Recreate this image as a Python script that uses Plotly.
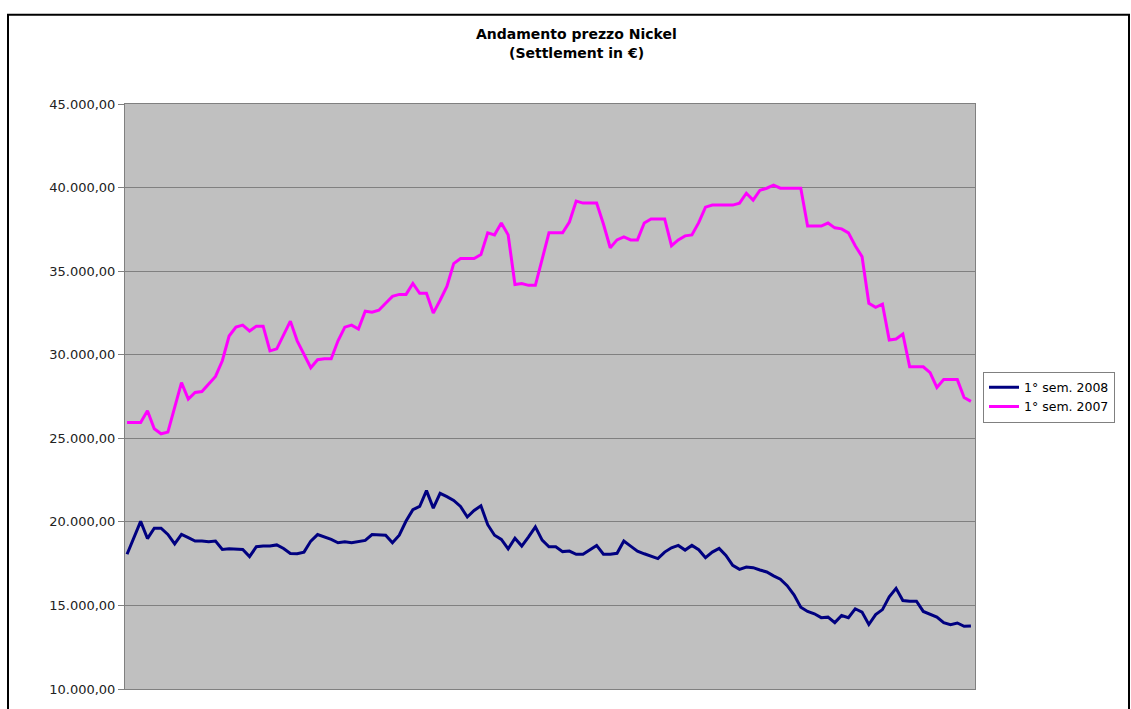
import plotly.graph_objects as go

# Daily settlement prices (EUR), first half-year, one value per trading day
sem_2008 = [18060, 19050, 20030, 19000, 19620, 19620, 19250, 18680, 19250, 19060,
            18850, 18850, 18810, 18850, 18350, 18390, 18350, 18350, 17920, 18510,
            18550, 18550, 18620, 18410, 18110, 18090, 18190, 18850, 19240, 19100,
            18950, 18750, 18810, 18750, 18830, 18890, 19240, 19240, 19200, 18750,
            19200, 20050, 20730, 20920, 21870, 20820, 21710, 21510, 21280, 20920,
            20290, 20680, 20960, 19830, 19200, 18950, 18390, 19020, 18550, 19100,
            19700, 18910, 18510, 18510, 18220, 18250, 18060, 18060, 18350, 18590,
            18060, 18060, 18120, 18850, 18550, 18250, 18090, 17960, 17800, 18190,
            18450, 18590, 18310, 18590, 18330, 17860, 18190, 18410, 17990, 17400,
            17160, 17300, 17260, 17120, 17000, 16770, 16570, 16180, 15640, 14890,
            14640, 14500, 14270, 14300, 13970, 14400, 14270, 14800, 14600, 13860,
            14450, 14750, 15520, 16020, 15290, 15250, 15250, 14640, 14450, 14300,
            13970, 13850, 13950, 13750, 13770]

sem_2007 = [25950, 25950, 25950, 26650, 25570, 25270, 25370, 26850, 28330, 27340,
            27740, 27800, 28230, 28700, 29640, 31120, 31650, 31770, 31420, 31710,
            31710, 30230, 30350, 31180, 32010, 30830, 30000, 29220, 29700, 29760,
            29760, 30830, 31650, 31770, 31540, 32600, 32540, 32660, 33080, 33490,
            33610, 33610, 34260, 33670, 33670, 32490, 33260, 34090, 35450, 35750,
            35750, 35750, 35990, 37290, 37170, 37880, 37170, 34200, 34260, 34150,
            34150, 35750, 37290, 37290, 37290, 37940, 39190, 39070, 39070, 39070,
            37820, 36400, 36870, 37050, 36870, 36870, 37880, 38120, 38120, 38120,
            36520, 36870, 37110, 37170, 37900, 38830, 38950, 38950, 38950, 38950,
            39070, 39660, 39250, 39840, 39960, 40140, 39960, 39960, 39960, 39960,
            37700, 37700, 37700, 37880, 37590, 37530, 37290, 36520, 35870, 33080,
            32840, 33020, 30880, 30940, 31240, 29280, 29280, 29280, 28930, 28040,
            28510, 28510, 28510, 27440, 27210]

series_names = ["1° sem. 2008", "1° sem. 2007"]
title_lines = ["Andamento prezzo Nickel", "(Settlement in €)"]
y_ticks = [10000, 15000, 20000, 25000, 30000, 35000, 40000, 45000]

days = list(range(len(sem_2008)))

W, H = 1131, 709
L, R, T, B = 125, 975, 104, 694

fig = go.Figure()
fig.add_trace(go.Scatter(x=days, y=sem_2008, mode="lines", name=series_names[0],
                         line=dict(color="#000080", width=3)))
fig.add_trace(go.Scatter(x=days, y=sem_2007, mode="lines", name=series_names[1],
                         line=dict(color="#FF00FF", width=3)))

pw, ph = R - L, B - T

def px_x(v):
    return (v - L) / pw

def px_y(v):
    return (B - v) / ph

annotations = []
for txt, yc in zip(title_lines, [33, 53]):
    annotations.append(dict(
        text="<b>" + txt + "</b>", xref="paper", yref="paper",
        x=px_x(576), y=px_y(yc), xanchor="center", yanchor="middle",
        showarrow=False, font=dict(family="DejaVu Sans", size=14, color="black"),
    ))

fig.update_layout(
    width=W, height=H,
    margin=dict(l=L, r=W - R, t=T, b=H - B, pad=0),
    paper_bgcolor="white",
    plot_bgcolor="#C0C0C0",
    separators=",.",
    font=dict(family="DejaVu Sans", size=12, color="black"),
    showlegend=True,
    legend=dict(
        x=px_x(983), y=px_y(374), xanchor="left", yanchor="top",
        bgcolor="white", bordercolor="#808080", borderwidth=1,
        font=dict(family="DejaVu Sans", size=12.5, color="black"),
        itemwidth=30, tracegroupgap=0,
    ),
    annotations=annotations,
    shapes=[dict(
        type="rect", xref="paper", yref="paper",
        x0=px_x(8), x1=px_x(1129), y0=px_y(14), y1=px_y(740),
        line=dict(color="black", width=2), fillcolor="rgba(0,0,0,0)", layer="below",
    )],
)

fig.update_xaxes(
    range=[-0.3, len(days) - 1 + 0.6],
    showticklabels=False, showgrid=False, zeroline=False,
    showline=True, linecolor="#808080", linewidth=1, mirror=True, ticks="",
)
fig.update_yaxes(
    range=[10000, 45000], tickvals=y_ticks, tickformat=",.2f",
    showgrid=True, gridcolor="#808080", gridwidth=1, zeroline=False,
    showline=True, linecolor="#808080", linewidth=1, mirror=True,
    ticks="outside", ticklen=6, tickcolor="#808080",
    tickfont=dict(family="DejaVu Sans", size=13, color="#222222"),
)

fig.write_html("out.html")
